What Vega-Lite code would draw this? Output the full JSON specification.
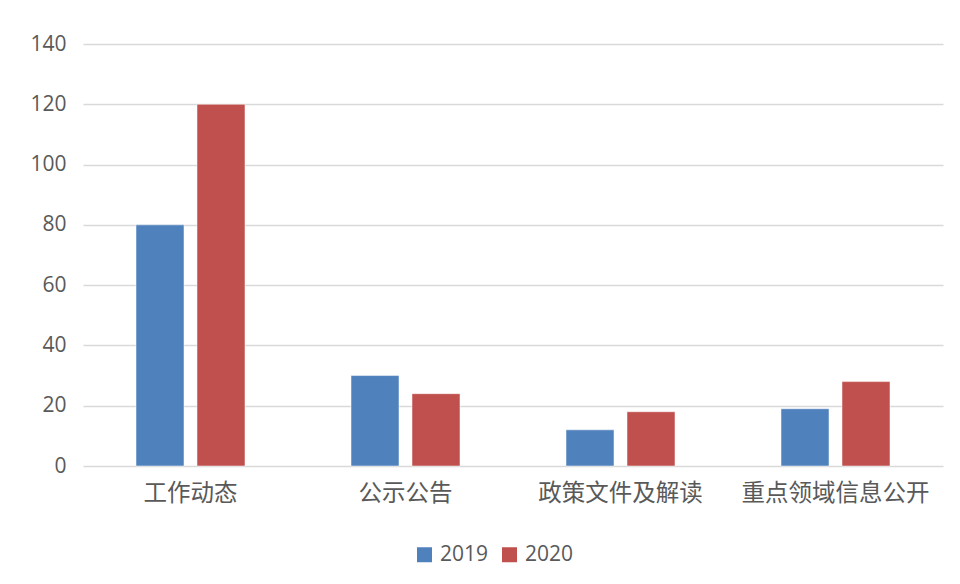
{
  "$schema": "https://vega.github.io/schema/vega-lite/v6.json",
  "width": 860,
  "height": 422,
  "autosize": {"type": "none"},
  "padding": {"left": 83, "top": 44, "right": 17, "bottom": 118},
  "background": "white",
  "data": {
    "values": [
      {"category": "工作动态", "year": "2019", "value": 80},
      {"category": "工作动态", "year": "2020", "value": 120},
      {"category": "公示公告", "year": "2019", "value": 30},
      {"category": "公示公告", "year": "2020", "value": 24},
      {"category": "政策文件及解读", "year": "2019", "value": 12},
      {"category": "政策文件及解读", "year": "2020", "value": 18},
      {"category": "重点领域信息公开", "year": "2019", "value": 19},
      {"category": "重点领域信息公开", "year": "2020", "value": 28}
    ]
  },
  "mark": {"type": "bar", "stroke": "white", "strokeWidth": 0.5},
  "encoding": {
    "x": {
      "field": "category",
      "type": "nominal",
      "sort": ["工作动态", "公示公告", "政策文件及解读", "重点领域信息公开"],
      "scale": {"paddingInner": 0, "paddingOuter": 0},
      "axis": {
        "title": null,
        "labelAngle": 0,
        "labelLimit": 0,
        "labelFont": "Noto Sans CJK SC",
        "labelFontSize": 23.5,
        "labelColor": "#595959",
        "labelPadding": 15,
        "domain": false,
        "ticks": false
      }
    },
    "xOffset": {
      "field": "year",
      "type": "nominal",
      "scale": {"paddingInner": 0.213, "paddingOuter": 0.869}
    },
    "y": {
      "field": "value",
      "type": "quantitative",
      "scale": {"domain": [0, 140], "nice": false},
      "axis": {
        "title": null,
        "values": [0, 20, 40, 60, 80, 100, 120, 140],
        "labelFont": "Open Sans",
        "labelFontSize": 21,
        "labelColor": "#595959",
        "labelPadding": 17,
        "domain": false,
        "ticks": false,
        "grid": true,
        "gridColor": "#d9d9d9",
        "gridWidth": 1.5
      }
    },
    "color": {
      "field": "year",
      "type": "nominal",
      "scale": {"domain": ["2019", "2020"], "range": ["#4F81BD", "#C0504D"]},
      "legend": {
        "title": null,
        "orient": "none",
        "legendX": 331,
        "legendY": 500,
        "direction": "horizontal",
        "symbolType": "square",
        "symbolSize": 225,
        "symbolStrokeWidth": 0,
        "labelFont": "Open Sans",
        "labelFontSize": 21,
        "labelColor": "#595959",
        "labelOffset": 5,
        "columnPadding": 10,
        "padding": 0
      }
    }
  },
  "config": {
    "view": {"stroke": null}
  }
}
